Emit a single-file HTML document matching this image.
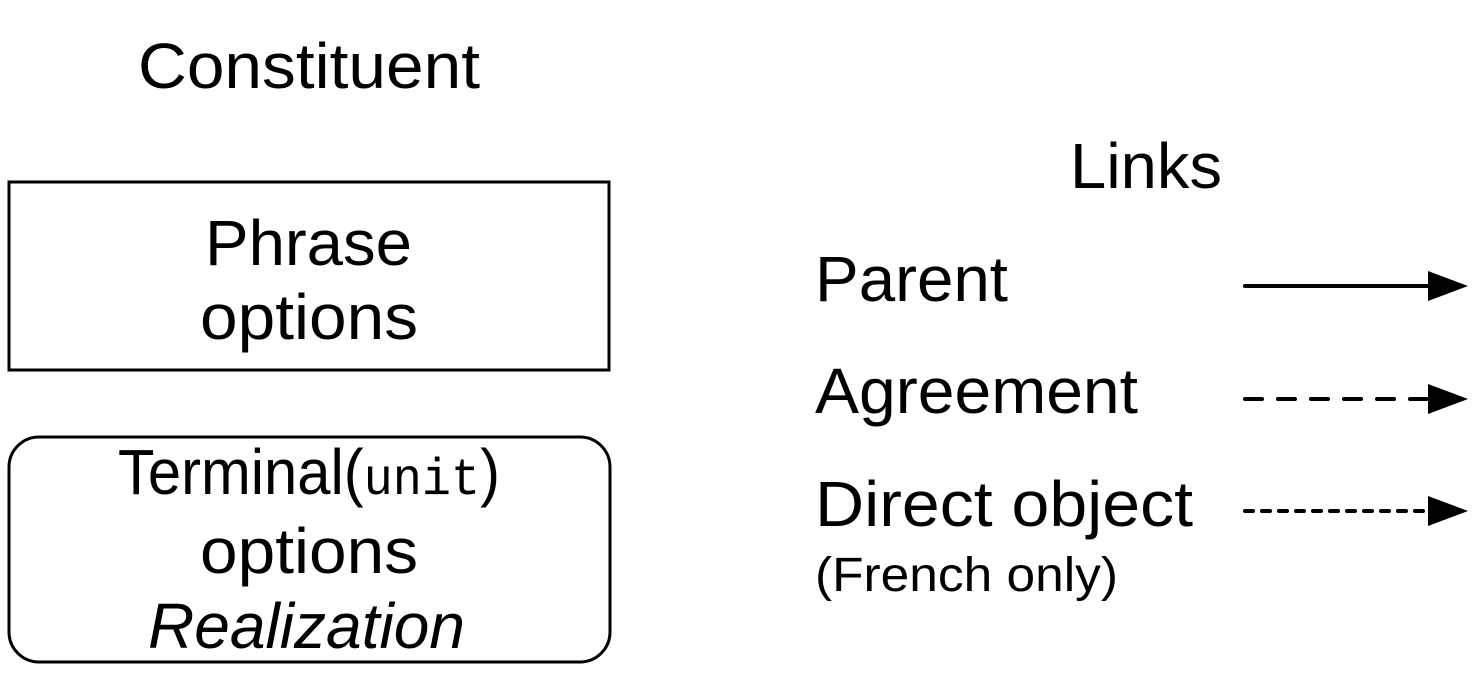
<!DOCTYPE html>
<html><head><style>body{margin:0;background:#fff}</style></head><body>
<svg width="1479" height="670" xmlns="http://www.w3.org/2000/svg" font-family="Liberation Sans, sans-serif" fill="#000">
<g font-size="64">
<text x="138" y="88" textLength="342" lengthAdjust="spacingAndGlyphs">Constituent</text>
<text x="1070" y="188" textLength="152" lengthAdjust="spacingAndGlyphs">Links</text>
<text x="205" y="265" textLength="207" lengthAdjust="spacingAndGlyphs">Phrase</text>
<text x="200" y="339" textLength="218" lengthAdjust="spacingAndGlyphs">options</text>
<text x="118" y="494" textLength="382" lengthAdjust="spacingAndGlyphs">Terminal(<tspan font-family="Liberation Mono, monospace" font-size="52">unit</tspan>)</text>
<text x="200" y="573" textLength="218" lengthAdjust="spacingAndGlyphs">options</text>
<text x="148" y="648" textLength="317" lengthAdjust="spacingAndGlyphs" font-style="italic">Realization</text>
<text x="815" y="301" textLength="193" lengthAdjust="spacingAndGlyphs">Parent</text>
<text x="815" y="413" textLength="323" lengthAdjust="spacingAndGlyphs">Agreement</text>
<text x="815" y="526" textLength="378" lengthAdjust="spacingAndGlyphs">Direct object</text>
</g>
<text x="815" y="591" font-size="48" textLength="303" lengthAdjust="spacingAndGlyphs">(French only)</text>
<rect x="9" y="182" width="600" height="188" fill="none" stroke="#000" stroke-width="3"/>
<rect x="9" y="437" width="601" height="225" rx="30" fill="none" stroke="#000" stroke-width="3"/>
<g stroke="#000" stroke-width="4" stroke-linecap="round">
<line x1="1245" y1="286" x2="1430" y2="286"/>
<line x1="1245" y1="399" x2="1430" y2="399" stroke-dasharray="17,16"/>
<line x1="1245" y1="511" x2="1430" y2="511" stroke-dasharray="8,9"/>
</g>
<polygon points="1428,271 1468,286 1428,301"/>
<polygon points="1428,384 1468,399 1428,414"/>
<polygon points="1428,496 1468,511 1428,526"/>
</svg>
</body></html>
